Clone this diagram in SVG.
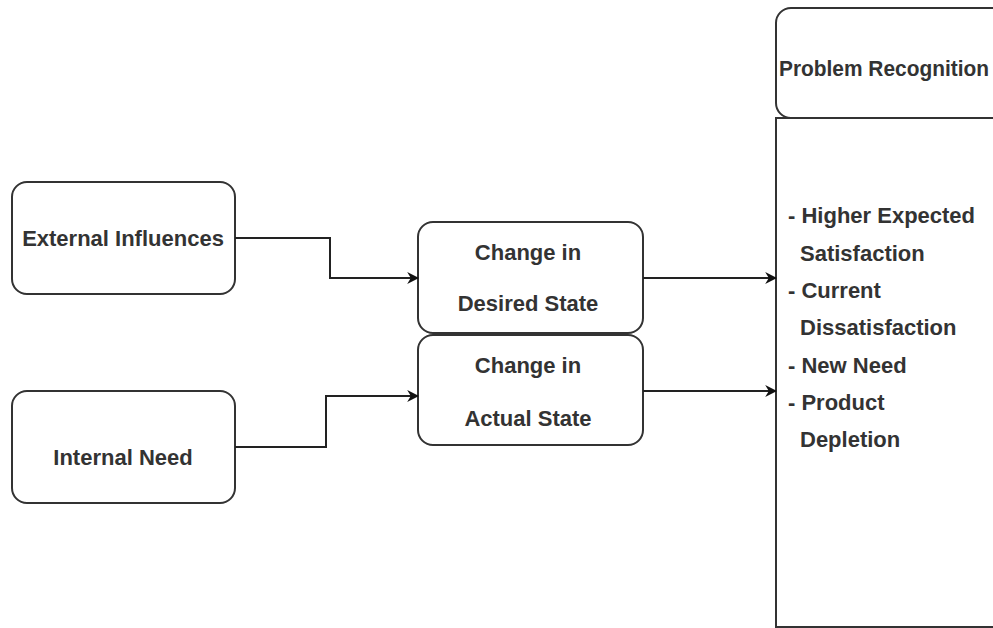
<svg xmlns="http://www.w3.org/2000/svg" width="993" height="628" viewBox="0 0 993 628">
<style>
.box{fill:#fff;stroke:#333;stroke-width:2}
.t{font-family:"Liberation Sans",Arial,sans-serif;font-size:22px;font-weight:bold;fill:#333}
.c{text-anchor:middle}
.e{fill:none;stroke:#222;stroke-width:2}
</style>
<defs>
<marker id="arr" viewBox="0 0 10 10" refX="9" refY="5" markerWidth="12" markerHeight="12" markerUnits="userSpaceOnUse" orient="auto">
<path d="M0,0 L10,5 L0,10 L3,5 Z" fill="#111"/>
</marker>
</defs>
<rect width="993" height="628" fill="#fff"/>
<g id="external">
<rect class="box" x="12" y="182" width="223" height="112" rx="15"/>
<text class="t c" x="123" y="246">External Influences</text>
</g>
<g id="internal">
<rect class="box" x="12" y="391" width="223" height="112" rx="15"/>
<text class="t c" x="123" y="465">Internal Need</text>
</g>
<g id="desired">
<rect class="box" x="418" y="222" width="225" height="111" rx="15"/>
<text class="t c" x="528" y="260">Change in</text>
<text class="t c" x="528" y="311">Desired State</text>
</g>
<g id="actual">
<rect class="box" x="418" y="335" width="225" height="110" rx="15"/>
<text class="t c" x="528" y="373">Change in</text>
<text class="t c" x="528" y="426">Actual State</text>
</g>
<g id="problem">
<rect class="box" x="776" y="8" width="240" height="110" rx="15"/>
<text class="t" x="779" y="76" textLength="210" lengthAdjust="spacingAndGlyphs">Problem Recognition</text>
</g>
<g id="list">
<rect class="box" x="776" y="118" width="240" height="509"/>
<text class="t" x="788" y="223">- Higher Expected</text>
<text class="t" x="800" y="261">Satisfaction</text>
<text class="t" x="788" y="298">- Current</text>
<text class="t" x="800" y="335">Dissatisfaction</text>
<text class="t" x="788" y="373">- New Need</text>
<text class="t" x="788" y="410">- Product</text>
<text class="t" x="800" y="447">Depletion</text>
</g>
<g id="connectors">
<path class="e" d="M235,238 H330 V278 H418" marker-end="url(#arr)"/>
<path class="e" d="M235,447 H326 V396 H418" marker-end="url(#arr)"/>
<path class="e" d="M643,278 H776" marker-end="url(#arr)"/>
<path class="e" d="M643,391 H776" marker-end="url(#arr)"/>
</g>
</svg>
